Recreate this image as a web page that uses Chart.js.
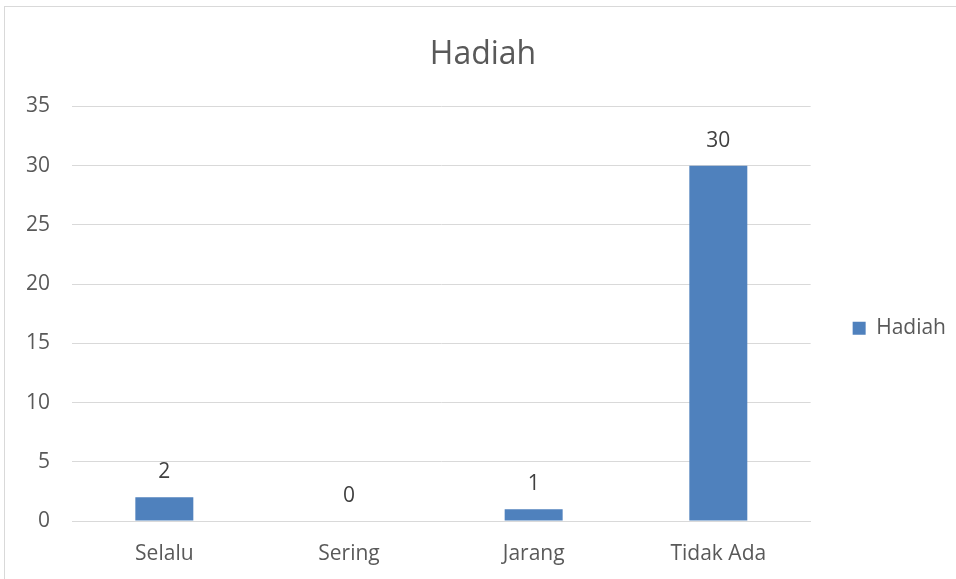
<!DOCTYPE html>
<html>
<head>
<meta charset="utf-8">
<script src="https://cdn.jsdelivr.net/npm/chart.js@4.4.1/dist/chart.umd.min.js"></script>
<style>
  html, body { margin: 0; padding: 0; background: #fff; overflow: hidden; }
  #wrap { position: relative; width: 956px; height: 579px; }
  #frame { position: absolute; left: 4px; top: 6px; width: 980px; height: 600px; border: 1px solid #d9d9d9; pointer-events: none; }
</style>
</head>
<body>
<div id="wrap">
  <canvas id="chart" width="956" height="579"></canvas>
  <div id="frame"></div>
</div>
<script>
// data
var categories = ['Selalu', 'Sering', 'Jarang', 'Tidak Ada'];
var hadiahValues = [2, 0, 1, 30];
var seriesName = 'Hadiah';
var yTicks = [0, 5, 10, 15, 20, 25, 30, 35];

var FONT = "'Open Sans', 'Noto Sans', sans-serif";

// draw the value above each bar
var valueLabels = {
    id: 'valueLabels',
    afterDatasetsDraw: function(chart) {
        var ctx = chart.ctx;
        ctx.save();
        ctx.font = '21px ' + FONT;
        ctx.fillStyle = '#404040';
        ctx.textAlign = 'center';
        ctx.textBaseline = 'middle';
        chart.data.datasets.forEach(function(ds, i) {
            chart.getDatasetMeta(i).data.forEach(function(bar, j) {
                ctx.fillText(String(ds.data[j]), bar.x, bar.y - 25);
            });
        });
        ctx.restore();
    }
};

var ctx = document.getElementById('chart').getContext('2d');
new Chart(ctx, {
    type: 'bar',
    data: {
        labels: categories,
        datasets: [{
            label: seriesName,
            data: hadiahValues,
            backgroundColor: '#4f81bd',
            borderWidth: 0,
            categoryPercentage: 1,
            barPercentage: 0.314
        }]
    },
    options: {
        responsive: false,
        animation: false,
        layout: { padding: { left: 10, right: 0, top: 28, bottom: 0 } },
        plugins: {
            title: {
                display: true,
                text: seriesName,
                color: '#595959',
                font: { family: FONT, size: 32, weight: 'normal' },
                padding: { top: 8, bottom: 32 }
            },
            legend: {
                position: 'right',
                fullSize: false,
                // empty legend title only pushes the entry down a bit
                title: { display: true, text: ' ', font: { size: 15 }, padding: { top: 5.5, bottom: 5.5 } },
                labels: {
                    color: '#595959',
                    font: { family: FONT, size: 21 },
                    boxWidth: 13,
                    boxHeight: 13,
                    padding: 10
                }
            },
            tooltip: { enabled: false }
        },
        scales: {
            x: {
                grid: { display: false, drawTicks: false },
                border: { display: true, color: '#d9d9d9' },
                ticks: { color: '#595959', font: { family: FONT, size: 21 }, padding: 20 },
                afterFit: function(s) { s.height = 58; }
            },
            y: {
                min: 0,
                max: 35,
                afterBuildTicks: function(s) { s.ticks = yTicks.map(function(v) { return { value: v }; }); },
                grid: { color: '#d9d9d9', drawTicks: false },
                border: { display: false },
                ticks: { color: '#595959', font: { family: FONT, size: 21 }, padding: 22 },
                afterFit: function(s) { s.width = 62; }
            },
            gap: {
                position: 'right',
                display: true,
                min: 0,
                max: 1,
                grid: { display: false, drawTicks: false },
                border: { display: false },
                ticks: { display: false },
                afterFit: function(s) { s.width = 32; }
            }
        }
    },
    plugins: [valueLabels]
});
</script>
</body>
</html>
